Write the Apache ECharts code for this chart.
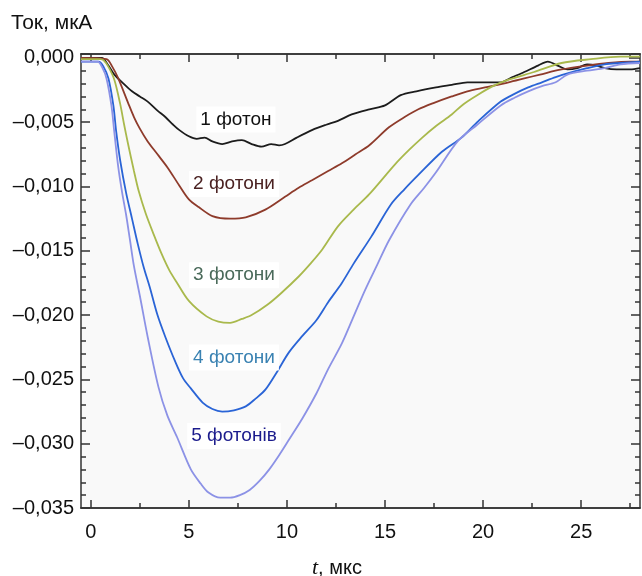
<!DOCTYPE html>
<html>
<head>
<meta charset="utf-8">
<script src="https://cdn.jsdelivr.net/npm/echarts@6/dist/echarts.min.js"></script>
<style>
  html, body { margin: 0; padding: 0; background: #fff; }
  #chart { width: 642px; height: 576px; }
</style>
</head>
<body>
<div id="chart"></div>
<script>
// час, мкс / струм, мкА
const photon1 = [[-0.5,0],[0,0],[0.56,0],[0.9,-0.0006],[1.2,-0.0013],[1.6,-0.0019],[2.1,-0.0026],[2.5,-0.0030],[2.9,-0.0034],[3.4,-0.0041],[3.8,-0.0046],[4.2,-0.0052],[4.5,-0.0056],[5.0,-0.0061],[5.4,-0.0063],[5.8,-0.0062],[6.2,-0.0065],[6.7,-0.0067],[7.2,-0.0065],[7.7,-0.0064],[8.2,-0.0067],[8.7,-0.0069],[9.2,-0.0067],[9.6,-0.0068],[9.9,-0.0067],[10.5,-0.0062],[11.3,-0.0056],[12.0,-0.0052],[12.6,-0.0049],[13.3,-0.0044],[14.2,-0.0040],[15.0,-0.0037],[15.8,-0.0029],[16.6,-0.0026],[17.6,-0.0023],[18.4,-0.0021],[19.2,-0.0019],[20.1,-0.0019],[20.9,-0.0019],[21.5,-0.0015],[22.1,-0.0011],[22.8,-0.0006],[23.3,-0.0003],[23.8,-0.0006],[24.3,-0.0009],[24.8,-0.0008],[25.3,-0.0005],[25.8,-0.0006],[26.2,-0.0008],[26.8,-0.0009],[27.5,-0.0009],[28,-0.0008]];
const photon2 = [[-0.5,0],[0.8,-0.0001],[1.1,-0.0007],[1.4,-0.0016],[1.9,-0.0035],[2.2,-0.0046],[2.5,-0.0055],[2.9,-0.0065],[3.4,-0.0075],[3.9,-0.0085],[4.5,-0.0099],[5.0,-0.0110],[5.5,-0.0116],[6.2,-0.0123],[7.1,-0.0125],[7.9,-0.0124],[8.9,-0.0118],[9.9,-0.0108],[10.6,-0.0101],[11.3,-0.0095],[12.1,-0.0088],[12.8,-0.0082],[13.5,-0.0075],[14.2,-0.0068],[15.2,-0.0054],[16.0,-0.0046],[16.7,-0.0040],[17.5,-0.0035],[18.4,-0.0030],[19.2,-0.0026],[20.1,-0.0023],[21.3,-0.0019],[22.1,-0.0016],[22.9,-0.0013],[24.0,-0.0009],[25.3,-0.0006],[26.4,-0.0004],[27.5,-0.0003],[28,-0.0003]];
const photon3 = [[-0.5,-0.0001],[0.5,-0.0001],[0.66,-0.0002],[0.9,-0.0007],[1.2,-0.0017],[1.5,-0.0036],[1.7,-0.0052],[1.9,-0.0067],[2.2,-0.0088],[2.45,-0.0104],[2.8,-0.0121],[3.2,-0.0137],[3.6,-0.0152],[4.0,-0.0165],[4.4,-0.0175],[5.0,-0.0189],[5.9,-0.0201],[6.5,-0.0205],[7.1,-0.0206],[7.7,-0.0203],[8.2,-0.0200],[9.0,-0.0192],[9.7,-0.0183],[10.6,-0.0170],[11.2,-0.0160],[11.8,-0.0149],[12.6,-0.0131],[13.4,-0.0118],[14.2,-0.0106],[15.5,-0.0083],[16.2,-0.0072],[16.9,-0.0062],[17.6,-0.0053],[18.4,-0.0044],[19.0,-0.0036],[19.7,-0.0029],[20.5,-0.0022],[21.3,-0.0017],[22.6,-0.0011],[24.0,-0.0004],[25.5,-0.0001],[27.0,0.0001],[28,0.0001]];
const photon4 = [[-0.5,-0.0003],[0.4,-0.0003],[0.65,-0.0007],[0.9,-0.0016],[1.15,-0.0037],[1.3,-0.0058],[1.5,-0.0080],[1.8,-0.0105],[2.1,-0.0125],[2.4,-0.0145],[2.7,-0.0163],[3.0,-0.0178],[3.4,-0.0200],[3.8,-0.0217],[4.3,-0.0236],[4.7,-0.0249],[5.1,-0.0257],[5.7,-0.0268],[6.2,-0.0273],[6.7,-0.0275],[7.3,-0.0274],[7.9,-0.0271],[8.4,-0.0265],[8.9,-0.0258],[9.5,-0.0244],[10.1,-0.0229],[10.8,-0.0216],[11.5,-0.0204],[12.1,-0.0190],[12.8,-0.0175],[13.4,-0.0160],[14.3,-0.0139],[15.3,-0.0114],[16.0,-0.0102],[16.7,-0.0091],[17.9,-0.0073],[18.9,-0.0062],[19.7,-0.0050],[20.9,-0.0034],[21.6,-0.0028],[22.3,-0.0023],[23.0,-0.0019],[23.7,-0.0015],[24.3,-0.0012],[25.3,-0.0008],[26.2,-0.0005],[27.0,-0.0004],[28,-0.0003]];
const photon5 = [[-0.5,-0.0003],[0.35,-0.0003],[0.6,-0.0008],[0.8,-0.0016],[1.05,-0.0037],[1.2,-0.0058],[1.4,-0.0085],[1.6,-0.0105],[1.8,-0.0122],[2.0,-0.0142],[2.2,-0.0162],[2.5,-0.0185],[2.9,-0.0217],[3.45,-0.0256],[3.9,-0.0278],[4.4,-0.0295],[5.1,-0.0320],[5.6,-0.0331],[6.0,-0.0338],[6.6,-0.0342],[7.1,-0.0342],[7.6,-0.0340],[8.1,-0.0336],[8.6,-0.0329],[9.1,-0.0320],[9.6,-0.0309],[10.1,-0.0297],[10.8,-0.0280],[11.5,-0.0261],[12.1,-0.0242],[12.8,-0.0222],[13.4,-0.0201],[14.0,-0.0180],[14.6,-0.0161],[15.2,-0.0142],[16.3,-0.0114],[17.0,-0.0101],[17.6,-0.0089],[18.7,-0.0065],[19.7,-0.0052],[20.9,-0.0037],[21.6,-0.0031],[22.3,-0.0026],[23.0,-0.0022],[23.7,-0.0019],[24.3,-0.0013],[25.3,-0.0010],[26.2,-0.0008],[27.0,-0.0005],[28,-0.0004]];

const seriesNames = ['1 фотон', '2 фотони', '3 фотони', '4 фотони', '5 фотонів'];
const labelPos = [[7.4,-0.0048],[7.3,-0.0098],[7.3,-0.0169],[7.3,-0.0233],[7.3,-0.0294]];
const xMajor = [0, 5, 10, 15, 20, 25];
const xMinor = [2.5, 7.5, 12.5, 17.5, 22.5, 27.5];

const lineColors = ['#1c1c1c', '#8e3b2b', '#a9b94c', '#2a64d6', '#8c92e6'];
const textColors = ['#111111', '#4b2222', '#4a6a5a', '#3a82b2', '#1b1b8c'];
const font = 'Liberation Sans, Arial, sans-serif';

const chart = echarts.init(document.getElementById('chart'));

const yFmt = v => (v < 0 ? '\u2013' : '') + Math.abs(v).toFixed(3).replace('.', ',');

const xAxisBase = (position, values, len, labels) => ({
    type: 'value',
    position: position,
    min: -0.5,
    max: 28,
    axisLine: { show: true, onZero: false, lineStyle: { color: '#333', width: 1.5 } },
    axisTick: { show: true, inside: true, length: len, customValues: values, lineStyle: { color: '#333', width: 1.5 } },
    axisLabel: labels
        ? { show: true, customValues: xMajor, color: '#111', fontSize: 20, fontFamily: font, margin: 14 }
        : { show: false },
    splitLine: { show: false }
});

const yAxisBase = (position, labels) => ({
    type: 'value',
    position: position,
    min: -0.035,
    max: 0.0003,
    interval: 0.005,
    axisLine: { show: true, onZero: false, lineStyle: { color: '#333', width: 1.5 } },
    axisTick: { show: true, inside: true, length: 9, lineStyle: { color: '#333', width: 1.5 } },
    minorTick: { show: true, splitNumber: 5, length: 5, lineStyle: { color: '#333', width: 1.5 } },
    axisLabel: labels
        ? { show: true, showMaxLabel: false, formatter: yFmt, color: '#111', fontSize: 20, fontFamily: font, margin: 7 }
        : { show: false },
    splitLine: { show: false },
    minorSplitLine: { show: false }
});

const data = [photon1, photon2, photon3, photon4, photon5];

chart.setOption({
    animation: false,
    backgroundColor: '#ffffff',
    title: [
        {
            text: 'Ток, мкА',
            left: 6, top: 8,
            textStyle: { fontSize: 21, fontWeight: 'normal', color: '#111', fontFamily: font }
        },
        {
            text: '{i|t}, мкс',
            left: 307, top: 552,
            textStyle: {
                fontSize: 20, fontWeight: 'normal', color: '#111', fontFamily: font,
                rich: { i: { fontFamily: 'Liberation Serif, serif', fontStyle: 'italic', fontSize: 22, color: '#111' } }
            }
        }
    ],
    grid: {
        left: 81, right: 2, top: 54, bottom: 68,
        show: true, backgroundColor: '#f9f9f9', borderWidth: 0
    },
    xAxis: [
        xAxisBase('bottom', xMajor, 8, true),
        xAxisBase('bottom', xMinor, 5, false),
        xAxisBase('top', xMajor, 8, false),
        xAxisBase('top', xMinor, 5, false)
    ],
    yAxis: [
        yAxisBase('left', true),
        yAxisBase('right', false)
    ],
    series: data.map((d, i) => ({
        name: seriesNames[i],
        type: 'line',
        data: d,
        smooth: 0.3,
        showSymbol: false,
        xAxisIndex: 0,
        yAxisIndex: 0,
        lineStyle: { color: lineColors[i], width: 1.8 },
        markPoint: {
            symbol: 'rect',
            symbolSize: 0,
            silent: true,
            data: [{
                coord: labelPos[i],
                label: {
                    show: true,
                    formatter: seriesNames[i],
                    position: 'inside',
                    color: textColors[i],
                    fontSize: 19,
                    fontFamily: font,
                    backgroundColor: '#ffffff',
                    padding: [4, 4, 3, 4]
                }
            }]
        }
    }))
});
</script>
</body>
</html>
